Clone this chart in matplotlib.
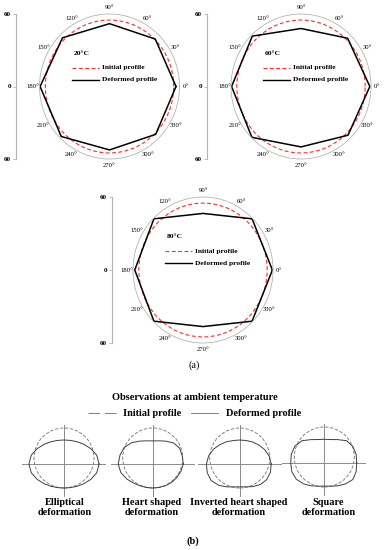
import numpy as np
import matplotlib
matplotlib.use('Agg')
import matplotlib.pyplot as plt
from matplotlib.lines import Line2D
from matplotlib.patches import Circle

plt.rcParams['font.family'] = ['Liberation Serif', 'DejaVu Serif']

W, H = 387, 550

# (a) polar profiles: deformed radius read every 45 deg, initial circle radius
angles_deg = [0, 45, 90, 135, 180, 225, 270, 315]
temps = ['20°C', '60°C', '80°C']
deformed = {
    '20°C': [57, 55.5, 52, 57, 59.5, 58.5, 52.5, 56],
    '60°C': [59, 56.5, 48, 59, 59.5, 59.5, 50, 57],
    '80°C': [59.5, 59.5, 46.5, 59.5, 58.5, 59.5, 46.5, 59.5],
}
initial_r = 55
r_max = 60
theta_ticks = list(range(0, 360, 30))
theta_labels = [f'{a}°' for a in theta_ticks]
r_ticks = [-60, 0, 60]
r_labels = ['60', '0', '60']

# (b) sketches: radius of deformed profile every 15 deg (unit = initial radius)
shape_names = ['Elliptical\ndeformation', 'Heart shaped\ndeformation',
               'Inverted heart shaped\ndeformation', 'Square\ndeformation']
shape_angles = list(range(0, 360, 15))
elliptical = [1.17, 1.13, 1.03, 0.93, 0.86, 0.815, 0.80, 0.815, 0.86, 0.93, 1.03, 1.13,
              1.17, 1.13, 1.03, 0.93, 0.86, 0.815, 0.80, 0.815, 0.86, 0.93, 1.03, 1.13]
heart = [1.02, 1.02, 1.04, 0.99, 0.88, 0.80, 0.77, 0.80, 0.88, 1.00, 1.10, 1.13,
         1.15, 1.10, 1.00, 0.90, 0.84, 0.81, 0.80, 0.81, 0.84, 0.88, 0.92, 0.97]
inv_heart = [1.05, 1.02, 0.96, 0.90, 0.85, 0.81, 0.80, 0.81, 0.86, 0.92, 1.00, 1.07,
             1.11, 1.12, 1.10, 1.00, 0.88, 0.79, 0.76, 0.79, 0.87, 0.97, 1.04, 1.06]
square = [1.08, 1.10, 1.10, 1.05, 0.90, 0.81, 0.79, 0.81, 0.90, 1.05, 1.13, 1.14,
          1.12, 1.12, 1.08, 0.98, 0.88, 0.80, 0.77, 0.80, 0.88, 0.99, 1.10, 1.10]
shapes = [elliptical, heart, inv_heart, square]
init_center_y = 0.2
init_radius = 1.0

RED = '#ff2b2b'
GRAY = '#b4b4b4'


def px_axes(fig, left, top, w, h, **kw):
    return fig.add_axes([left / W, 1 - (top + h) / H, w / W, h / H], **kw)


def fy(y):
    return 1 - y / H


fig = plt.figure(figsize=(W / 100, H / 100), dpi=100)

# polar panels: (left, top, width, height, x of radial axis) in pixels
polar_boxes = [(39.5, 14, 140, 145, 16), (231, 14, 140, 145, 206.7),
               (133, 197, 140, 146, 112)]

for temp, (l, t, w, h, rx) in zip(temps, polar_boxes):
    ax = px_axes(fig, l, t, w, h, projection='polar')
    ax.set_aspect('auto')
    ax.set_ylim(0, r_max)
    ax.set_yticks([])
    ax.set_xticks(np.radians(theta_ticks), theta_labels)
    ax.tick_params(axis='x', labelsize=4.8, pad=-2.5, length=0)
    ax.grid(False)
    ax.spines['polar'].set(color=GRAY, lw=0.6)

    ax.axhline(initial_r, color=RED, lw=0.8, ls=(0, (3.5, 2.2)))
    th = np.radians(angles_deg + angles_deg[:1])
    r = deformed[temp] + deformed[temp][:1]
    ax.plot(th, r, color='black', lw=1.1)

    # legend block, offsets from centre in px
    fx = lambda dx: 0.5 + dx / w
    fyy = lambda dy: 0.5 - dy / h
    ax.text(fx(-36), fyy(-33), temp, transform=ax.transAxes, fontsize=5.4,
            fontweight='bold', ha='left', va='center')
    ax.add_artist(Line2D([fx(-38), fx(-11)], [fyy(-19)] * 2, transform=ax.transAxes,
                         color=RED, lw=0.8, ls=(0, (3.5, 2.2))))
    ax.add_artist(Line2D([fx(-38), fx(-11)], [fyy(-7)] * 2, transform=ax.transAxes,
                         color='black', lw=1.0))
    ax.text(fx(-8), fyy(-19), 'Initial profile', transform=ax.transAxes,
            fontsize=5.4, fontweight='bold', ha='left', va='center')
    ax.text(fx(-8), fyy(-7), 'Deformed profile', transform=ax.transAxes,
            fontsize=5.4, fontweight='bold', ha='left', va='center')

    rax = px_axes(fig, rx, t, 0.01, h)
    rax.patch.set_visible(False)
    rax.set_ylim(-r_max, r_max)
    rax.set_yticks(r_ticks, r_labels)
    rax.set_xticks([])
    for s in ['top', 'right', 'bottom']:
        rax.spines[s].set_visible(False)
    rax.spines['left'].set(color=GRAY, lw=0.8)
    rax.tick_params(axis='y', length=2, width=0.6, color=GRAY, labelsize=5, pad=1.5)
    for lbl in rax.get_yticklabels():
        lbl.set_fontweight('bold')

fig.text(194 / W, fy(365), '(a)', ha='center', va='center', fontsize=7.4)

# panel (b)
fig.text(195 / W, fy(397), 'Observations at ambient temperature', ha='center',
         va='center', fontsize=7.4, fontweight='bold')
fig.add_artist(Line2D([88 / W, 117 / W], [fy(413.3)] * 2, transform=fig.transFigure,
                      color='#808080', lw=0.7, ls=(0, (12, 5))))
fig.text(123 / W, fy(413.3), 'Initial profile', ha='left', va='center',
         fontsize=7.4, fontweight='bold')
fig.add_artist(Line2D([191 / W, 218 / W], [fy(413.3)] * 2, transform=fig.transFigure,
                      color='#808080', lw=0.7))
fig.text(226 / W, fy(413.3), 'Deformed profile', ha='left', va='center',
         fontsize=7.4, fontweight='bold')

centers = [(64, 464), (152.7, 464), (239.7, 464), (324.3, 463)]
label_x = [65, 151.7, 238.3, 328.3]
scale = 30
th = np.radians(shape_angles + shape_angles[:1])
for (cx, cy), prof, name, lx in zip(centers, shapes, shape_names, label_x):
    ax = px_axes(fig, cx - 1.4 * scale, cy - 1.3 * scale, 2.8 * scale, 2.4 * scale)
    ax.set_xlim(-1.4, 1.4)
    ax.set_ylim(-1.1, 1.3)
    ax.axis('off')
    ax.axhline(0, color='#8a8a8a', lw=0.7)
    ax.axvline(0, color='#8a8a8a', lw=0.7)
    ax.add_patch(Circle((0, init_center_y), init_radius, fill=False, ec='#707070',
                        lw=0.6, ls=(0, (4, 2))))
    r = np.array(prof + prof[:1])
    ax.plot(r * np.cos(th), r * np.sin(th), color='#404040', lw=0.7)
    fig.text(lx / W, fy(507.5), name, ha='center', va='center', fontsize=7.4,
             fontweight='bold', linespacing=1.05)

fig.text(193 / W, fy(541), '(b)', ha='center', va='center', fontsize=7.4,
         fontweight='bold')

fig.savefig('out.png', dpi=100)
